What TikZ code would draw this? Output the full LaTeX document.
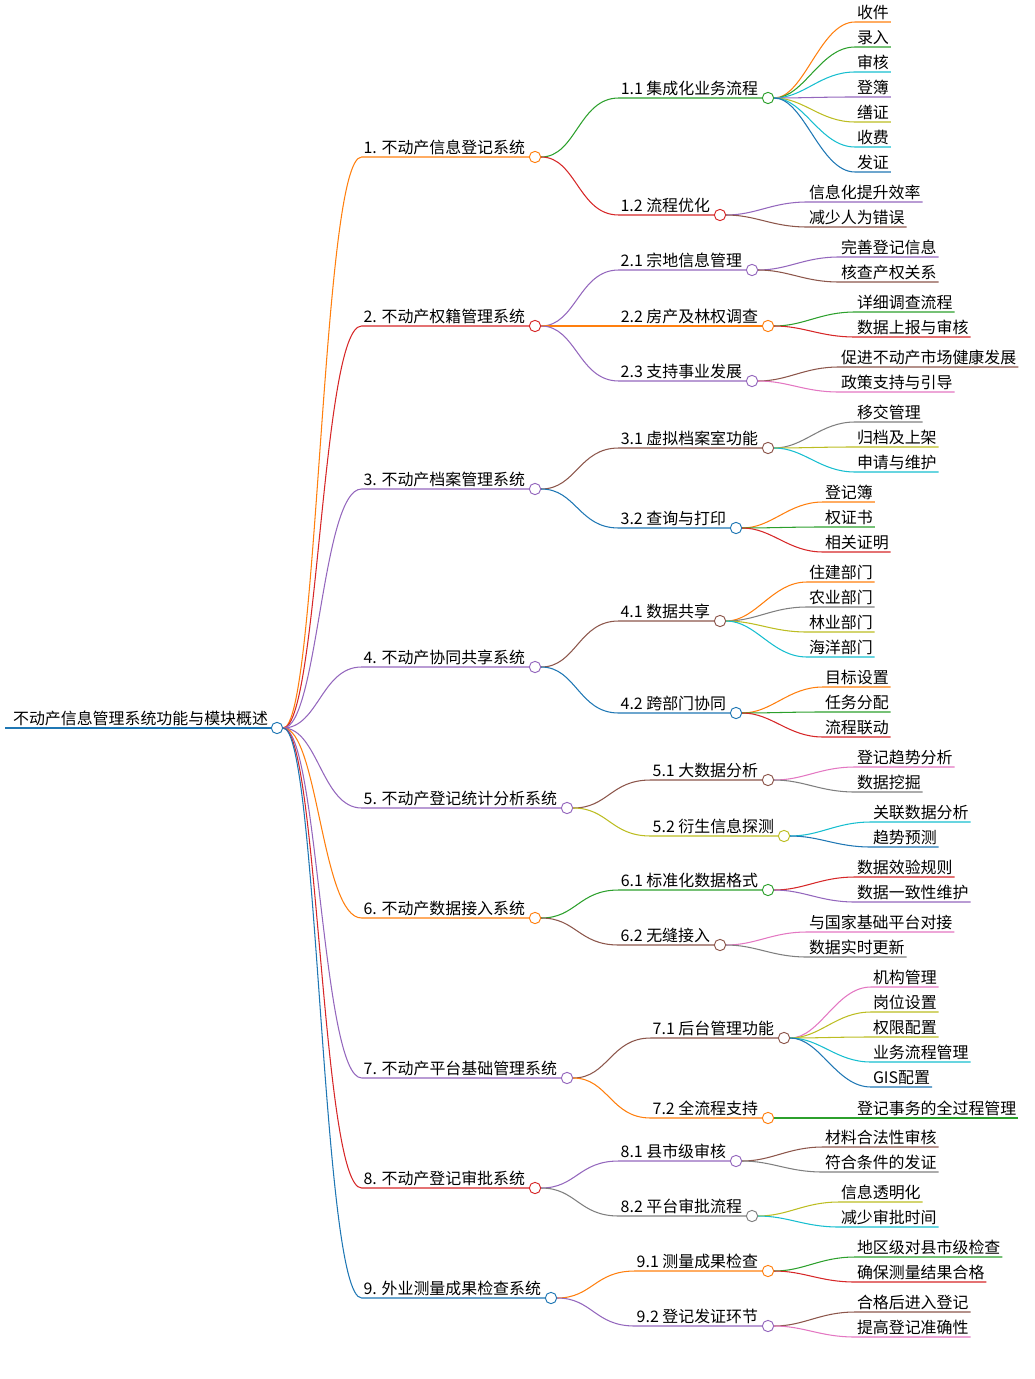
\documentclass[tikz,border=0pt]{standalone}
\usepackage{fontspec}
\setmainfont{Noto Sans CJK SC}
\definecolor{corange}{HTML}{FF7F0E}
\definecolor{cred}{HTML}{D62728}
\definecolor{cgreen}{HTML}{2CA02C}
\definecolor{cpurple}{HTML}{9467BD}
\definecolor{cbrown}{HTML}{8C564B}
\definecolor{cblue}{HTML}{1F77B4}
\definecolor{cpink}{HTML}{E377C2}
\definecolor{cgray}{HTML}{7F7F7F}
\definecolor{colive}{HTML}{BCBD22}
\definecolor{ccyan}{HTML}{17BECF}
\tikzset{
  lbl/.style={inner sep=1.5pt,font=\fontsize{13.6}{15}\selectfont},
  dot/.style={circle,fill=white,line width=0.8pt,minimum size=0.34cm,inner sep=0pt},
  edge/.style={line width=0.9pt}
}
% branch node: parent, name, cx, cy, colour, text
\newcommand\branch[6]{%
  \node[lbl,anchor=south east] (#2t) at (#3-8,#4) {#6};
  \draw[edge,#5] (#1.east) .. controls +(35,0) and +(-40,0) .. (#2t.south west) -- (#3,#4);
  \node[dot,draw=#5] (#2) at (#3,#4) {};}
% leaf: parent, name, x, y, colour, text
\newcommand\leaf[6]{%
  \node[lbl,anchor=south west] (#2) at (#3,#4) {#6};
  \draw[edge,#5] (#1.east) .. controls +(30,0) and +(-35,0) .. (#2.south west) -- (#2.south east);}
\begin{document}
\begin{tikzpicture}[x=0.03cm,y=-0.03cm]
\useasboundingbox (0,0) rectangle (1034,1379);
% root
\node[lbl,anchor=south east] (rt) at (270,728) {不动产信息管理系统功能与模块概述};
\draw[cblue,line width=2.2pt] (5,728) -- (277,728);
\node[dot,draw=cblue] (r) at (277,728) {};
% level 1
\branch{r}{a}{535}{157}{corange}{1. 不动产信息登记系统}
\branch{r}{b}{535}{326}{cred}{2. 不动产权籍管理系统}
\branch{r}{c}{535}{489}{cpurple}{3. 不动产档案管理系统}
\branch{r}{d}{535}{667}{cpurple}{4. 不动产协同共享系统}
\branch{r}{e}{567}{808}{cpurple}{5. 不动产登记统计分析系统}
\branch{r}{f}{535}{918}{corange}{6. 不动产数据接入系统}
\branch{r}{g}{567}{1078}{cpurple}{7. 不动产平台基础管理系统}
\branch{r}{h}{535}{1188}{cred}{8. 不动产登记审批系统}
\branch{r}{i}{551}{1298}{cblue}{9. 外业测量成果检查系统}
% level 2
\branch{a}{a1}{768}{98}{cgreen}{1.1 集成化业务流程}
\branch{a}{a2}{720}{215}{cred}{1.2 流程优化}
\branch{b}{b1}{752}{270}{cpurple}{2.1 宗地信息管理}
\branch{b}{b2}{768}{326}{corange}{2.2 房产及林权调查}
\branch{b}{b3}{752}{381}{cpurple}{2.3 支持事业发展}
\branch{c}{c1}{768}{448}{cbrown}{3.1 虚拟档案室功能}
\branch{c}{c2}{736}{528}{cblue}{3.2 查询与打印}
\branch{d}{d1}{720}{621}{cbrown}{4.1 数据共享}
\branch{d}{d2}{736}{713}{cblue}{4.2 跨部门协同}
\branch{e}{e1}{768}{780}{cbrown}{5.1 大数据分析}
\branch{e}{e2}{784}{836}{colive}{5.2 衍生信息探测}
\branch{f}{f1}{768}{890}{cgreen}{6.1 标准化数据格式}
\branch{f}{f2}{720}{945}{cbrown}{6.2 无缝接入}
\branch{g}{g1}{784}{1038}{cbrown}{7.1 后台管理功能}
\branch{g}{g2}{768}{1118}{corange}{7.2 全流程支持}
\branch{h}{h1}{736}{1161}{cpurple}{8.1 县市级审核}
\branch{h}{h2}{752}{1216}{cgray}{8.2 平台审批流程}
\branch{i}{i1}{768}{1271}{corange}{9.1 测量成果检查}
\branch{i}{i2}{768}{1326}{cpurple}{9.2 登记发证环节}
% leaves
\leaf{a1}{l1}{855}{22}{corange}{收件}
\leaf{a1}{l2}{855}{47}{cgreen}{录入}
\leaf{a1}{l3}{855}{72}{ccyan}{审核}
\leaf{a1}{l4}{855}{97}{cpurple}{登簿}
\leaf{a1}{l5}{855}{122}{colive}{缮证}
\leaf{a1}{l6}{855}{147}{ccyan}{收费}
\leaf{a1}{l7}{855}{172}{cblue}{发证}
\leaf{a2}{l8}{807}{202}{cpurple}{信息化提升效率}
\leaf{a2}{l9}{807}{227}{cbrown}{减少人为错误}
\leaf{b1}{l10}{839}{257}{cpurple}{完善登记信息}
\leaf{b1}{l11}{839}{282}{cbrown}{核查产权关系}
\leaf{b2}{l12}{855}{312}{cgreen}{详细调查流程}
\leaf{b2}{l13}{855}{337}{cred}{数据上报与审核}
\leaf{b3}{l14}{839}{367}{cbrown}{促进不动产市场健康发展}
\leaf{b3}{l15}{839}{392}{cpink}{政策支持与引导}
\leaf{c1}{l16}{855}{422}{cgray}{移交管理}
\leaf{c1}{l17}{855}{447}{colive}{归档及上架}
\leaf{c1}{l18}{855}{472}{ccyan}{申请与维护}
\leaf{c2}{l19}{823}{502}{corange}{登记簿}
\leaf{c2}{l20}{823}{527}{cgreen}{权证书}
\leaf{c2}{l21}{823}{552}{cred}{相关证明}
\leaf{d1}{l22}{807}{582}{corange}{住建部门}
\leaf{d1}{l23}{807}{607}{cgray}{农业部门}
\leaf{d1}{l24}{807}{632}{colive}{林业部门}
\leaf{d1}{l25}{807}{657}{ccyan}{海洋部门}
\leaf{d2}{l26}{823}{687}{corange}{目标设置}
\leaf{d2}{l27}{823}{712}{cgreen}{任务分配}
\leaf{d2}{l28}{823}{737}{cred}{流程联动}
\leaf{e1}{l29}{855}{767}{cpink}{登记趋势分析}
\leaf{e1}{l30}{855}{792}{cgray}{数据挖掘}
\leaf{e2}{l31}{871}{822}{ccyan}{关联数据分析}
\leaf{e2}{l32}{871}{847}{cblue}{趋势预测}
\leaf{f1}{l33}{855}{877}{cred}{数据效验规则}
\leaf{f1}{l34}{855}{902}{cpurple}{数据一致性维护}
\leaf{f2}{l35}{807}{932}{cpink}{与国家基础平台对接}
\leaf{f2}{l36}{807}{957}{cgray}{数据实时更新}
\leaf{g1}{l37}{871}{987}{cpink}{机构管理}
\leaf{g1}{l38}{871}{1012}{colive}{岗位设置}
\leaf{g1}{l39}{871}{1037}{colive}{权限配置}
\leaf{g1}{l40}{871}{1062}{ccyan}{业务流程管理}
\leaf{g1}{l41}{871}{1087}{cblue}{GIS配置}
\leaf{g2}{l42}{855}{1118}{cgreen}{登记事务的全过程管理}
\leaf{h1}{l43}{823}{1147}{cbrown}{材料合法性审核}
\leaf{h1}{l44}{823}{1172}{cgray}{符合条件的发证}
\leaf{h2}{l45}{839}{1202}{colive}{信息透明化}
\leaf{h2}{l46}{839}{1227}{ccyan}{减少审批时间}
\leaf{i1}{l47}{855}{1257}{cgreen}{地区级对县市级检查}
\leaf{i1}{l48}{855}{1282}{cred}{确保测量结果合格}
\leaf{i2}{l49}{855}{1312}{cbrown}{合格后进入登记}
\leaf{i2}{l50}{855}{1337}{cpink}{提高登记准确性}
\end{tikzpicture}
\end{document}
